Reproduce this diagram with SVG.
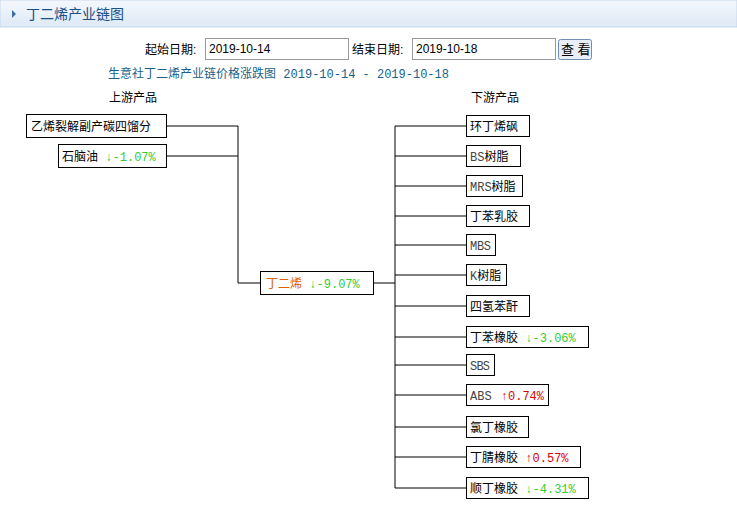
<svg xmlns="http://www.w3.org/2000/svg" width="737" height="514" viewBox="0 0 737 514">
<style>
text{font-family:"Liberation Sans","Noto Sans CJK SC",sans-serif;font-size:12px;fill:#000}
.n rect{fill:#fff;stroke:#000;stroke-width:1}
.m{font-family:"Liberation Mono","Noto Sans CJK SC",monospace;font-size:12px}
.g{fill:#33cc33}.r{fill:#dd0000}.o{fill:#e06000}.a{fill:#444}
#conn path{fill:none;stroke:#000;stroke-width:1}
</style>
<defs><linearGradient id="hg" x1="0" y1="0" x2="0" y2="1"><stop offset="0" stop-color="#f4f8fd"/><stop offset="1" stop-color="#dde9f6"/></linearGradient></defs>
<rect x="0" y="0" width="737" height="27" fill="url(#hg)" stroke="#c5d7ea"/>
<polygon points="12,10 16,14 12,18" fill="#3a6ea5"/>
<text x="26" y="19" style="font-size:14px;fill:#1b4f85">丁二烯产业链图</text>
<text x="145" y="54">起始日期:</text>
<rect x="205.500" y="38.500" width="143" height="21" fill="#fff" stroke="#999"/>
<text x="209" y="53">2019-10-14</text>
<text x="352" y="54">结束日期:</text>
<rect x="412.500" y="38.500" width="143" height="21" fill="#fff" stroke="#999"/>
<text x="416" y="53">2019-10-18</text>
<rect x="558.500" y="39.500" width="33" height="20" rx="2" fill="#e8eef6" stroke="#6f8fb5"/>
<text x="561" y="54" style="font-size:13px">查 看</text>
<text x="108" y="78" style="fill:#1a5f8a">生意社丁二烯产业链价格涨跌图 <tspan class="m" style="fill:#1a5f8a" dx="4">2019-10-14 - 2019-10-18</tspan></text>
<text x="109" y="102">上游产品</text>
<text x="471" y="102">下游产品</text>
<g id="conn">
<path d="M166,126H238M166,156H238M238,126V283H260M373,283H395M395,126V488"/>
<path d="M395,126H466M395,156H466M395,186H466M395,216H466M395,245H466M395,275H466M395,306H466M395,337H466M395,365H466M395,395H466M395,427H466M395,457H466M395,488H466"/>
</g>
<g id="u1" class="n"><rect x="26.500" y="114.500" width="140" height="23"/><text x="31" y="131">乙烯裂解副产碳四馏分</text></g>
<g id="u2" class="n"><rect x="58.500" y="144.500" width="108" height="23"/><text x="62" y="161">石脑油 <tspan class="m g" dx="4">↓-1.07%</tspan></text></g>
<g id="c" class="n"><rect x="260.500" y="271.500" width="113" height="23"/><text x="266" y="288" class="o">丁二烯 <tspan class="m g" dx="4">↓-9.07%</tspan></text></g>
<g id="d1" class="n"><rect x="466.500" y="115.500" width="63" height="21"/><text x="470" y="131">环丁烯砜</text></g>
<g id="d2" class="n"><rect x="466.500" y="145.500" width="54" height="21"/><text x="470" y="161"><tspan class="m a">BS</tspan>树脂</text></g>
<g id="d3" class="n"><rect x="466.500" y="175.500" width="56" height="21"/><text x="470" y="191"><tspan class="m a">MRS</tspan>树脂</text></g>
<g id="d4" class="n"><rect x="466.500" y="205.500" width="63" height="21"/><text x="470" y="221">丁苯乳胶</text></g>
<g id="d5" class="n"><rect x="466.500" y="234.500" width="29" height="21"/><text x="470" y="250" class="m a" textLength="21">MBS</text></g>
<g id="d6" class="n"><rect x="466.500" y="264.500" width="40" height="21"/><text x="470" y="280"><tspan class="m a">K</tspan>树脂</text></g>
<g id="d7" class="n"><rect x="466.500" y="295.500" width="63" height="21"/><text x="470" y="311">四氢苯酐</text></g>
<g id="d8" class="n"><rect x="466.500" y="326.500" width="122" height="21"/><text x="470" y="342">丁苯橡胶 <tspan class="m g" dx="4">↓-3.06%</tspan></text></g>
<g id="d9" class="n"><rect x="466.500" y="354.500" width="28" height="21"/><text x="470" y="370" class="m a" textLength="20">SBS</text></g>
<g id="d10" class="n"><rect x="466.500" y="384.500" width="82" height="21"/><text x="470" y="400" class="m a">ABS <tspan class="r" dx="2">↑0.74%</tspan></text></g>
<g id="d11" class="n"><rect x="466.500" y="416.500" width="62" height="21"/><text x="470" y="432">氯丁橡胶</text></g>
<g id="d12" class="n"><rect x="466.500" y="446.500" width="114" height="21"/><text x="470" y="462">丁腈橡胶 <tspan class="m r" dx="4">↑0.57%</tspan></text></g>
<g id="d13" class="n"><rect x="466.500" y="477.500" width="122" height="21"/><text x="470" y="493">顺丁橡胶 <tspan class="m g" dx="4">↓-4.31%</tspan></text></g>
</svg>
